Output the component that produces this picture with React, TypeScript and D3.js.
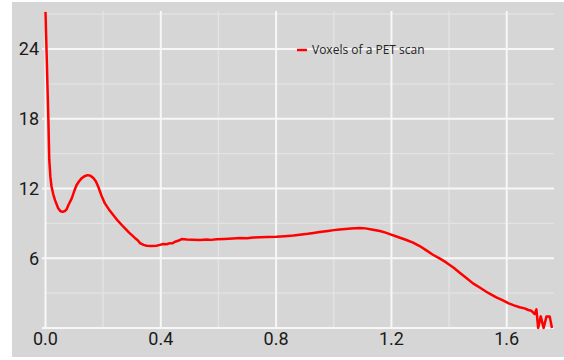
import React from "react";
import * as d3 from "d3";

const xValues = [
  0.0, 0.01, 0.013, 0.017, 0.021, 0.027, 0.033, 0.044, 0.052, 0.06, 0.067, 0.073, 0.08, 0.091, 0.1,
  0.108, 0.116, 0.125, 0.135, 0.146, 0.156, 0.166, 0.175, 0.183, 0.194, 0.206, 0.22, 0.235, 0.25,
  0.27, 0.29, 0.31, 0.32, 0.328, 0.34, 0.351, 0.365, 0.385, 0.397, 0.408, 0.42, 0.432, 0.44, 0.449,
  0.46, 0.472, 0.49, 0.51, 0.536, 0.56, 0.575, 0.593, 0.62, 0.65, 0.674, 0.7, 0.72, 0.744, 0.77,
  0.801, 0.83, 0.86, 0.882, 0.91, 0.93, 0.951, 0.98, 1.0, 1.02, 1.04, 1.06, 1.09, 1.11, 1.136, 1.16,
  1.18, 1.194, 1.22, 1.252, 1.275, 1.298, 1.32, 1.344, 1.37, 1.391, 1.415, 1.437, 1.46, 1.483, 1.505,
  1.529, 1.545, 1.564, 1.585, 1.607, 1.625, 1.645, 1.662, 1.675, 1.685, 1.697, 1.703, 1.709, 1.718,
  1.728, 1.738, 1.749, 1.757,
];
const yValues = [
  27.2, 17.9, 14.5, 13.0, 12.15, 11.5, 11.0, 10.3, 10.05, 10.0, 10.05, 10.2, 10.6, 11.15, 11.8,
  12.3, 12.6, 12.87, 13.05, 13.15, 13.1, 12.9, 12.6, 12.15, 11.4, 10.72, 10.2, 9.72, 9.25,
  8.71, 8.2, 7.75, 7.55, 7.3, 7.15, 7.08, 7.05, 7.08, 7.15, 7.22, 7.2, 7.3, 7.28, 7.42,
  7.5, 7.65, 7.62, 7.6, 7.57, 7.62, 7.58, 7.63, 7.66, 7.7, 7.74, 7.72, 7.78, 7.8, 7.82,
  7.85, 7.9, 7.95, 8.02, 8.1, 8.18, 8.25, 8.35, 8.42, 8.48, 8.52, 8.55, 8.6, 8.57, 8.45, 8.35,
  8.2, 8.08, 7.85, 7.57, 7.35, 7.05, 6.7, 6.3, 5.95, 5.62, 5.2, 4.75, 4.3, 3.84, 3.5,
  3.12, 2.9, 2.64, 2.4, 2.12, 1.95, 1.78, 1.69, 1.55, 1.49, 1.2, 1.6, 0.0, 1.0,
  0.0, 1.0, 1.0, 0.0,
];
const xMajorTicks = [0, 0.4, 0.8, 1.2, 1.6];
const xMinorTicks = [0.2, 0.6, 1.0, 1.4];
const yMajorTicks = [0, 6, 12, 18, 24];
const yMinorTicks = [3, 9, 15, 21, 27];
const seriesName = "Voxels of a PET scan";

export default function App() {
  const W = 564;
  const H = 360;
  const x = d3.scaleLinear().domain([0, 1.764]).range([45.5, 554]);
  const y = d3.scaleLinear().domain([0, 24]).range([328, 49]);
  const top = 11;
  const data = xValues.map((v, i) => [v, yValues[i]] as [number, number]);
  const line = d3
    .line<[number, number]>()
    .x((d) => x(d[0]))
    .y((d) => y(d[1]));
  const fmtX = d3.format(".1f");
  return (
    <svg
      width={W}
      height={H}
      style={{ position: "absolute", left: 0, top: 0 }}
    >
      <rect x={12} y={2} width={W - 12} height={355} fill="#d6d6d6" />
      {yMinorTicks.map((t) => (
        <line key={"ym" + t} x1={45} x2={554} y1={y(t)} y2={y(t)} stroke="#e3e3e3" strokeWidth={1.3} />
      ))}
      {xMinorTicks.map((t) => (
        <line key={"xm" + t} x1={x(t)} x2={x(t)} y1={top} y2={328} stroke="#e3e3e3" strokeWidth={1.3} />
      ))}
      {yMajorTicks.map((t) => (
        <line key={"yM" + t} x1={42} x2={554} y1={y(t)} y2={y(t)} stroke="#f7f7f7" strokeWidth={2} />
      ))}
      {xMajorTicks.map((t) => (
        <line key={"xM" + t} x1={x(t)} x2={x(t)} y1={top} y2={328} stroke="#f7f7f7" strokeWidth={2} />
      ))}
      <path d={line(data) || ""} fill="none" stroke="#ff0000" strokeWidth={2.5} strokeLinejoin="round" />
      {yMajorTicks
        .filter((t) => t > 0)
        .map((t) => (
          <text
            key={"yl" + t}
            x={39}
            y={y(t)}
            dy="0.35em"
            textAnchor="end"
            fontFamily="Roboto"
            fontSize={18}
            fill="#1a1a1a"
          >
            {t}
          </text>
        ))}
      {xMajorTicks.map((t) => (
        <text
          key={"xl" + t}
          x={x(t)}
          y={345}
          textAnchor="middle"
          fontFamily="Roboto"
          fontSize={18}
          fill="#1a1a1a"
        >
          {fmtX(t)}
        </text>
      ))}
      <line x1={297} x2={307} y1={50} y2={50} stroke="#ff0000" strokeWidth={2.5} />
      <text x={312} y={54} fontFamily="Open Sans" fontSize={12} fill="#222">
        {seriesName}
      </text>
    </svg>
  );
}
